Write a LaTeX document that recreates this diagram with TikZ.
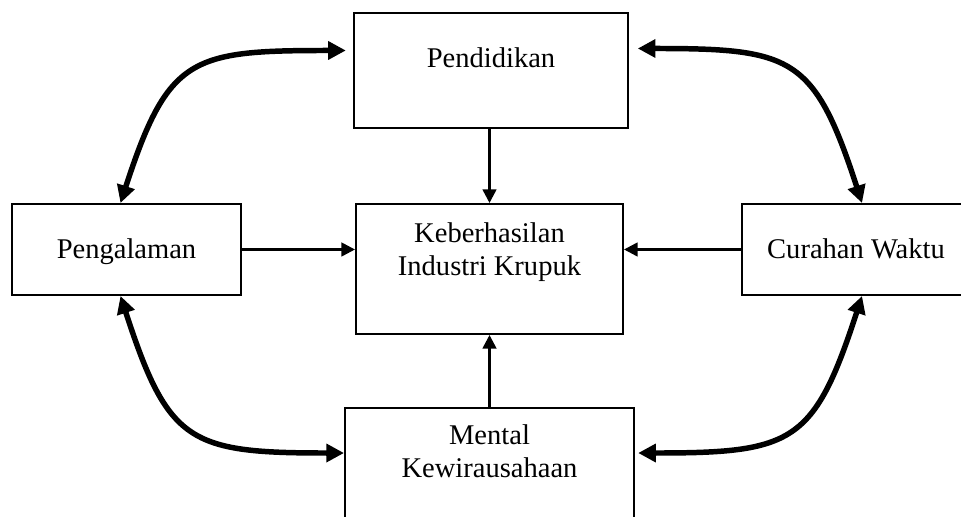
\documentclass[tikz,border=0pt]{standalone}
\usepackage{fontspec}
\setmainfont{Liberation Serif}
\usetikzlibrary{arrows.meta}

\begin{document}
\begin{tikzpicture}[box/.style={draw,line width=1.4pt,inner sep=0pt,align=center,
                      font=\fontsize{20.3}{23.5}\selectfont},
                    link/.style={-{Triangle[length=0.34cm,width=0.34cm]},line width=1.8pt},
                    both/.style={{Triangle[length=0.44cm,width=0.44cm]}-{Triangle[length=0.44cm,width=0.44cm]},
                      line width=3.9pt,looseness=1.45}]

  \clip (0,0) rectangle (24.025,-12.9);

  \node[box,anchor=north,minimum width=6.85cm,text height=1.375cm,text depth=1.5cm]
        (pend) at (12.275,-0.3)     {Pendidikan};
  \node[box,anchor=north,minimum width=6.675cm,text height=1.8cm,text depth=1.45cm]
        (keb)  at (12.2375,-5.075)  {Keberhasilan\\Industri Krupuk};
  \node[box,anchor=north,minimum width=5.725cm,text height=1.375cm,text depth=0.9cm]
        (peng) at (3.1625,-5.075)   {Pengalaman};
  \node[box,anchor=north,minimum width=5.7cm,text height=1.375cm,text depth=0.9cm]
        (cur)  at (21.4,-5.075)     {Curahan Waktu};
  \node[box,anchor=north,minimum width=7.225cm,text height=1.75cm,text depth=1.6cm]
        (ment) at (12.2375,-10.175) {Mental\\Kewirausahaan};

  % pengaruh langsung
  \draw[link] (pend.south -| keb.north) -- (keb.north);
  \draw[link] (ment.north -| keb.south) -- (keb.south);
  \draw[link] (peng.east) -- (peng.east -| keb.west);
  \draw[link] (cur.west) -- (cur.west -| keb.east);

  % hubungan timbal balik
  \draw[both] ([xshift=-0.18cm,yshift=0.5cm]pend.west)
        to[out=180,in=72] ([xshift=-0.15cm]peng.north);
  \draw[both] ([xshift=0.22cm,yshift=0.55cm]pend.east)
        to[out=0,in=108] ([xshift=0.15cm]cur.north);
  \draw[both] ([xshift=-0.15cm]peng.south)
        to[out=-72,in=180] ([yshift=-1.15cm]ment.north west);
  \draw[both] ([xshift=0.15cm]cur.south)
        to[out=-108,in=0] ([xshift=0.08cm,yshift=-1.15cm]ment.north east);
\end{tikzpicture}
\end{document}
